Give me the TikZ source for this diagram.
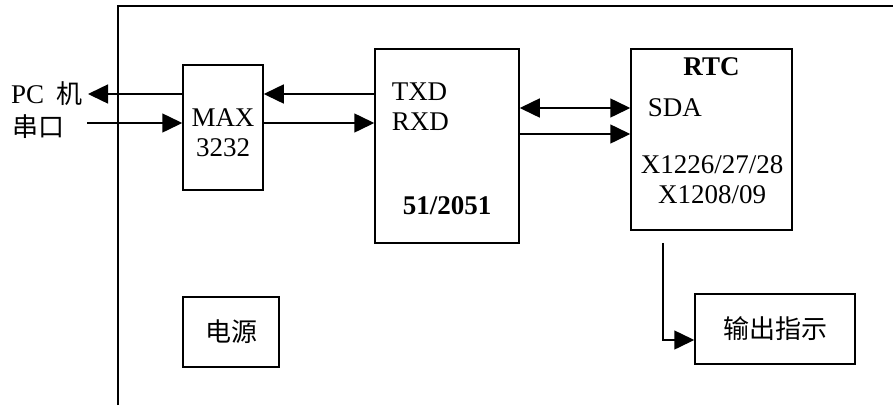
\documentclass[tikz,border=0pt]{standalone}
\usepackage{fontspec}
\setmainfont{Liberation Serif}
\newfontfamily\cjk{Noto Sans CJK SC}
\usetikzlibrary{arrows.meta,calc}

\begin{document}
\begin{tikzpicture}[x=1pt, y=-1pt, line width=1.5pt,
  font=\fontsize{27}{30}\selectfont,
  arr/.style={-{Triangle[length=20pt,width=19pt]}},
  dbl/.style={{Triangle[length=20pt,width=19pt]}-{Triangle[length=20pt,width=19pt]}},
  blk/.style={draw, inner sep=0pt, align=center},
  lbl/.style={inner sep=0pt},
  bold/.style={font=\fontsize{27}{30}\selectfont\bfseries},
  zh/.style={font=\fontsize{26}{30}\selectfont\cjk}]
\useasboundingbox (0,0) rectangle (893,405);
% outer frame (only left and top edges show)
\draw (118,405) -- (118,6) -- (893,6);
% blocks
\node[blk, minimum width=80, minimum height=125] (max) at (223,127.5) {};
\node[lbl, align=center] (maxt) at (223,133) {MAX\\3232};
\node[blk, minimum width=144, minimum height=194] (mcu) at (447,146) {};
\node[lbl, anchor=west] (txd) at (391,92) {TXD};
\node[lbl, anchor=west] (rxd) at (391,122) {RXD};
\node[lbl, bold] (mcut) at (447,206) {51/2051};
\node[blk, minimum width=161, minimum height=181] (rtc) at (711.5,139.5) {};
\node[lbl, bold] (rtct) at (711.5,67) {RTC};
\node[lbl, anchor=west] (sda) at (647,108) {SDA};
\node[lbl, align=center] (chip) at (712,180) {X1226/27/28\\X1208/09};
\node[blk, zh, minimum width=96, minimum height=70] (pwr) at (231,332) {电源};
\node[blk, zh, minimum width=160, minimum height=70] (out) at (775,329) {输出指示};
% PC side
\node[lbl, anchor=east] (pc) at (83,94) {PC\hspace{12pt}{\cjk\fontsize{26}{30}\selectfont 机}};
\node[lbl, zh, anchor=west] (ck) at (12,127) {串口};
\coordinate (in) at (87,123);
% links
\draw[arr, shorten >=5pt] (max.west |- pc) -- (pc.east);
\draw[arr] (in) -- (max.west |- in);
\draw[arr] (mcu.west |- pc) -- (max.east |- pc);
\draw[arr] (max.east |- in) -- (mcu.west |- in);
\draw[dbl] (mcu.east |- sda) -- (rtc.west |- sda);
\draw[arr] ($(mcu.east |- sda)+(0,26)$) -- ($(rtc.west |- sda)+(0,26)$);
\draw[arr] ($(rtc.south)+(-48.5,12)$) |- ($(out.west)+(0,11)$);
\end{tikzpicture}
\end{document}
